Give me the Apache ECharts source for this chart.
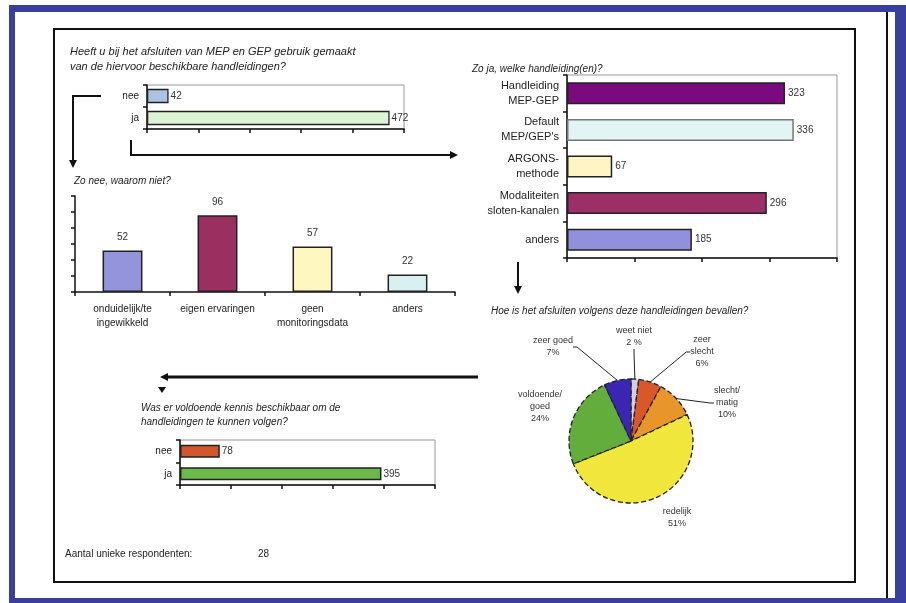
<!DOCTYPE html>
<html>
<head>
<meta charset="utf-8">
<script src="https://cdn.jsdelivr.net/npm/echarts@6/dist/echarts.min.js"></script>
<style>
  html, body { margin: 0; padding: 0; background: #fff; }
  #chart { width: 906px; height: 603px; }
</style>
</head>
<body>
<div id="chart"></div>
<script>
// gebruik handleidingen
var gebruikCats = ['nee', 'ja'];
var gebruikVals = [42, 472];

// welke handleidingen
var welkeCats = ['Handleiding\nMEP-GEP', "Default\nMEP/GEP's", 'ARGONS-\nmethode', 'Modaliteiten\nsloten-kanalen', 'anders'];
var welkeVals = [323, 336, 67, 296, 185];
var welkeColors = ['#7b0a7e', '#e2f4f4', '#fff5c4', '#9c2f66', '#9090dc'];

// waarom niet
var nietCats = ['onduidelijk/te\ningewikkeld', 'eigen ervaringen', 'geen\nmonitoringsdata', 'anders'];
var nietVals = [52, 96, 57, 22];
var nietColors = ['#9494dc', '#99305f', '#fff7c0', '#d8f0f0'];

// tevredenheid (pie)
var oordeelCats = ['weet niet', 'zeer slecht', 'slecht/matig', 'redelijk', 'voldoende/goed', 'zeer goed'];
var oordeelVals = [2, 6, 10, 51, 24, 7];
var oordeelLabels = ['weet niet\n2 %', 'zeer\nslecht\n6%', 'slecht/\nmatig\n10%', 'redelijk\n51%', 'voldoende/\ngoed\n24%', 'zeer goed\n7%'];
var oordeelColors = ['#cfcfe6', '#d8582a', '#e8952a', '#f0e63c', '#62ad3c', '#3b25b5'];

// voldoende kennis
var kennisCats = ['nee', 'ja'];
var kennisVals = [78, 395];
var kennisColors = ['#d4562c', '#6bb94a'];

var respondenten = 28;

var chart = echarts.init(document.getElementById('chart'));
var FONT = '"Liberation Sans", Arial, sans-serif';

// label spots for the pie (layout only)
var pieLabelPos = [[634, 337], [702, 352], [727, 403], [677, 518], [540, 407], [553, 347]];

function valueAxis(gi, max, n) {
  return {
    type: 'value', gridIndex: gi, min: 0, max: max, interval: max / n,
    axisLine: { show: true, lineStyle: { color: '#111', width: 1.5 } },
    axisTick: { show: true, length: 4, lineStyle: { color: '#111', width: 1.5 } },
    axisLabel: { show: false },
    splitLine: { show: false }
  };
}
function catAxis(gi, data) {
  return {
    type: 'category', gridIndex: gi, data: data, inverse: gi !== 2,
    axisLine: { show: true, lineStyle: { color: '#111', width: 1.5 } },
    axisTick: { show: true, length: 4, interval: 0, lineStyle: { color: '#111', width: 1.5 } },
    axisLabel: { show: true, interval: 0, fontFamily: FONT, fontSize: gi === 1 ? 11 : 10, color: '#222',
      margin: gi === 2 ? 10 : 8, lineHeight: gi === 2 ? 14 : 15 }
  };
}
function itTitle(text, left, top, size) {
  return { text: text, left: left, top: top,
    textStyle: { fontFamily: FONT, fontSize: size, fontStyle: 'italic', fontWeight: 'normal', color: '#222', lineHeight: size + 4 } };
}

var option = {
  backgroundColor: '#ffffff',
  animation: false,
  textStyle: { fontFamily: FONT },
  title: [
    itTitle('Heeft u bij het afsluiten van MEP en GEP gebruik gemaakt\nvan de hiervoor beschikbare handleidingen?', 65, 39, 11),
    itTitle('Zo ja, welke handleiding(en)?', 467, 57, 10),
    itTitle('Zo nee, waarom niet?', 69, 169, 10),
    itTitle('Hoe is het afsluiten volgens deze handleidingen bevallen?', 486, 299, 10),
    itTitle('Was er voldoende kennis beschikbaar om de\nhandleidingen te kunnen volgen?', 136, 396, 10)
  ],
  grid: [
    { left: 147, top: 85, width: 257, height: 44, show: true, borderColor: '#999', borderWidth: 1 },
    { left: 567, top: 75, width: 270, height: 183, show: true, borderColor: '#999', borderWidth: 1 },
    { left: 75, top: 196, width: 380, height: 96 },
    { left: 180, top: 440, width: 255, height: 45, show: true, borderColor: '#999', borderWidth: 1 }
  ],
  xAxis: [
    valueAxis(0, 500, 5),
    valueAxis(1, 400, 4),
    catAxis(2, nietCats),
    valueAxis(3, 500, 5)
  ],
  yAxis: [
    catAxis(0, gebruikCats),
    catAxis(1, welkeCats),
    valueAxis(2, 120, 6),
    catAxis(3, kennisCats)
  ],
  series: [
    {
      type: 'bar', xAxisIndex: 0, yAxisIndex: 0, barWidth: '65%',
      data: gebruikVals.map(function (v, i) {
        return { value: v, itemStyle: { color: ['#a9c3e6', '#dcf3d4'][i] } };
      }),
      itemStyle: { borderColor: '#222', borderWidth: 1.3 },
      label: { show: true, position: 'right', distance: 2, fontFamily: FONT, fontSize: 10, color: '#333' }
    },
    {
      type: 'bar', xAxisIndex: 1, yAxisIndex: 1, barWidth: '60%',
      data: welkeVals.map(function (v, i) {
        return { value: v, itemStyle: { color: welkeColors[i], borderColor: i === 1 ? '#777' : '#222' } };
      }),
      itemStyle: { borderWidth: 1.5 },
      label: { show: true, position: 'right', distance: 3, fontFamily: FONT, fontSize: 10, color: '#333' }
    },
    {
      type: 'bar', xAxisIndex: 2, yAxisIndex: 2, barWidth: '42%',
      data: nietVals.map(function (v, i) {
        return { value: v, itemStyle: { color: nietColors[i] } };
      }),
      itemStyle: { borderColor: '#222', borderWidth: 1.5 },
      label: { show: true, position: 'top', distance: 8, fontFamily: FONT, fontSize: 10, color: '#333' }
    },
    {
      type: 'bar', xAxisIndex: 3, yAxisIndex: 3, barWidth: '58%',
      data: kennisVals.map(function (v, i) {
        return { value: v, itemStyle: { color: kennisColors[i] } };
      }),
      itemStyle: { borderColor: '#222', borderWidth: 1.5 },
      label: { show: true, position: 'right', distance: 2, fontFamily: FONT, fontSize: 10, color: '#333' }
    },
    {
      type: 'pie', center: [631, 441], radius: 62, startAngle: 90, clockwise: true,
      data: oordeelVals.map(function (v, i) {
        var noLine = oordeelCats[i] === 'redelijk' || oordeelCats[i] === 'voldoende/goed';
        return {
          name: oordeelCats[i], value: v,
          itemStyle: { color: oordeelColors[i] },
          label: { formatter: oordeelLabels[i] },
          labelLine: { show: !noLine }
        };
      }),
      itemStyle: { borderColor: '#222', borderWidth: 1.3, borderType: 'dashed' },
      label: { show: true, position: 'outside', fontFamily: FONT, fontSize: 9, color: '#333', lineHeight: 12, align: 'center' },
      labelLine: { show: true, length: 12, length2: 4, lineStyle: { color: '#222', width: 1 } },
      labelLayout: function (p) {
        var pos = pieLabelPos[p.dataIndex];
        return { x: pos[0], y: pos[1], align: 'center', verticalAlign: 'middle' };
      }
    }
  ],
  graphic: [
    // blue frame
    { type: 'rect', shape: { x: 9, y: 5, width: 897, height: 7 }, style: { fill: '#3a3f9f' }, z: 100 },
    { type: 'rect', shape: { x: 9, y: 5, width: 6, height: 598 }, style: { fill: '#3a3f9f' }, z: 100 },
    { type: 'rect', shape: { x: 895, y: 5, width: 11, height: 598 }, style: { fill: '#3a3f9f' }, z: 100 },
    { type: 'rect', shape: { x: 9, y: 598, width: 897, height: 5 }, style: { fill: '#3a3f9f' }, z: 100 },
    { type: 'line', shape: { x1: 887, y1: 12, x2: 887, y2: 598 }, style: { stroke: '#111', lineWidth: 2 }, z: 100 },
    // inner box
    { type: 'rect', shape: { x: 54, y: 29, width: 801, height: 553 }, style: { fill: 'none', stroke: '#111', lineWidth: 2 }, z: 100 },
    // arrow to "zo nee"
    { type: 'polyline', shape: { points: [[101, 96], [73, 96], [73, 162]] }, style: { stroke: '#111', lineWidth: 2, fill: 'none' }, z: 100 },
    { type: 'polygon', shape: { points: [[69, 160], [77, 160], [73, 168]] }, style: { fill: '#111' }, z: 100 },
    // arrow to "zo ja"
    { type: 'polyline', shape: { points: [[131, 140], [131, 155], [452, 155]] }, style: { stroke: '#111', lineWidth: 2, fill: 'none' }, z: 100 },
    { type: 'polygon', shape: { points: [[450, 151], [450, 159], [458, 155]] }, style: { fill: '#111' }, z: 100 },
    // arrow to pie
    { type: 'line', shape: { x1: 518, y1: 262, x2: 518, y2: 288 }, style: { stroke: '#111', lineWidth: 2 }, z: 100 },
    { type: 'polygon', shape: { points: [[514, 286], [522, 286], [518, 294]] }, style: { fill: '#111' }, z: 100 },
    // arrow back to kennis
    { type: 'line', shape: { x1: 478, y1: 377, x2: 166, y2: 377 }, style: { stroke: '#111', lineWidth: 3 }, z: 100 },
    { type: 'polygon', shape: { points: [[160, 377], [168, 373], [168, 381]] }, style: { fill: '#111' }, z: 100 },
    { type: 'polygon', shape: { points: [[158, 387], [166, 387], [162, 393]] }, style: { fill: '#111' }, z: 100 },
    // footer
    { type: 'text', x: 65, y: 549, style: { text: 'Aantal unieke respondenten:', font: '10px ' + FONT, fill: '#222' }, z: 100 },
    { type: 'text', x: 258, y: 549, style: { text: String(respondenten), font: '10px ' + FONT, fill: '#222' }, z: 100 }
  ]
};

chart.setOption(option);
</script>
</body>
</html>
